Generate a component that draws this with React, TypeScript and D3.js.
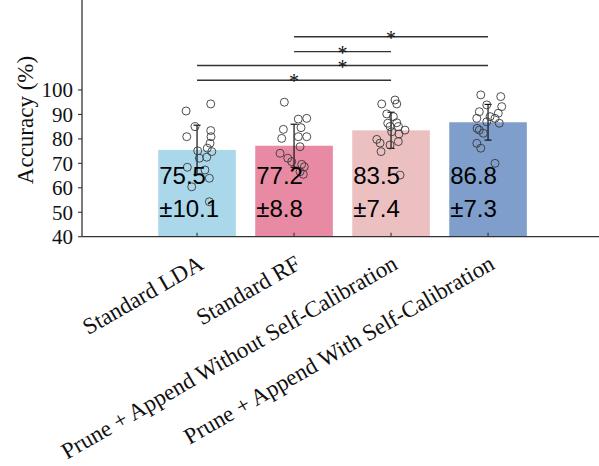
import React from "react";
import * as d3 from "d3";

const categories = [
  "Standard LDA",
  "Standard RF",
  "Prune + Append Without Self-Calibration",
  "Prune + Append With Self-Calibration",
];
const means = [75.5, 77.2, 83.5, 86.8];
const sds = [10.1, 8.8, 7.4, 7.3];
const barColors = ["#aad8ea", "#e88aa3", "#ecc0c0", "#7f9ecb"];
const yTicks = [40, 50, 60, 70, 80, 90, 100];

// individual subject points: value and horizontal jitter (in category units)
const ldaValues = [91.4, 94.3, 85.0, 80.9, 83.4, 80.9, 78.2, 76.2, 75.1, 74.8, 72.1, 72.5, 68.4, 67.3, 63.9, 60.4, 54.3];
const ldaJitter = [-0.113, 0.141, -0.021, -0.106, 0.141, 0.144, 0.134, 0.106, 0.007, 0.152, 0.024, 0.1, -0.1, 0.082, 0.127, -0.055, 0.127];
const rfValues = [95.0, 88.1, 88.4, 83.9, 84.6, 80.2, 80.9, 80.9, 76.8, 74.1, 72.1, 70.7, 69.6, 68.6, 66.6, 65.5];
const rfJitter = [-0.1, 0.044, 0.131, -0.11, 0.072, -0.127, 0.044, 0.131, 0.062, -0.144, -0.065, -0.024, 0.079, 0.106, 0.062, 0.096];
const paWoValues = [94.3, 95.9, 94.3, 90.2, 89.1, 86.4, 86.6, 85.0, 85.0, 83.6, 82.9, 82.0, 79.8, 78.9, 78.3, 77.5, 74.8, 65.2];
const paWoJitter = [-0.096, 0.041, 0.059, -0.044, 0.024, -0.034, 0.059, -0.01, 0.075, 0.144, 0.007, 0.082, -0.147, 0.075, -0.113, -0.01, -0.103, 0.093];
const paWValues = [98.0, 97.3, 93.9, 93.2, 91.1, 90.5, 88.4, 89.1, 88.4, 87.0, 86.4, 84.3, 83.6, 82.3, 78.2, 76.2, 70.0];
const paWJitter = [-0.075, 0.131, -0.013, 0.141, -0.09, 0.106, -0.116, 0.021, 0.072, -0.013, 0.116, -0.113, -0.09, -0.048, -0.116, -0.075, 0.072];
const pointValues = [ldaValues, rfValues, paWoValues, paWValues];
const pointJitter = [ldaJitter, rfJitter, paWoJitter, paWJitter];

// significance brackets: from index, to index, level (accuracy units)
const sigFrom = [1, 1, 0, 0];
const sigTo = [3, 2, 3, 2];
const sigLevel = [121.8, 115.7, 110.0, 104.0];

const W = 599;
const H = 466;

export default function App() {
  const x = d3.scaleLinear().domain([-1.186, 4.2]).range([82, 82 + 5.386 * 97]);
  const y = d3.scaleLinear().domain([40, 136.8]).range([236.7, 0]);
  const barW = 0.8 * 97;
  const axisColor = "#333";
  const serif = "'Liberation Serif', 'Times New Roman', serif";
  const sans = "'Liberation Sans', Arial, sans-serif";

  return (
    <svg width={W} height={H} style={{ position: "absolute", left: 0, top: 0, background: "#fff" }}>
      {means.map((m, i) => (
        <rect key={"b" + i} x={x(i) - barW / 2} y={y(m)} width={barW} height={y(40) - y(m)} fill={barColors[i]} />
      ))}
      {means.map((m, i) => {
        const cx = x(i);
        const t = y(m + sds[i]);
        const b = y(m - sds[i]);
        return (
          <g key={"e" + i} stroke="#111" strokeWidth={1.2}>
            <line x1={cx} x2={cx} y1={t} y2={b} />
            <line x1={cx - 3.5} x2={cx + 3.5} y1={t} y2={t} />
            <line x1={cx - 3.5} x2={cx + 3.5} y1={b} y2={b} />
          </g>
        );
      })}
      {pointValues.map((vals, i) =>
        vals.map((v, j) => (
          <circle key={"p" + i + "-" + j} cx={x(i + pointJitter[i][j])} cy={y(v)} r={4} fill="none" stroke="#3a3a3a" strokeWidth={0.9} />
        ))
      )}
      {means.map((m, i) => (
        <g key={"t" + i} fontFamily={sans} fontSize={24} fill="#000">
          <text x={x(i) - barW / 2 + 1} y={184}>{m.toFixed(1)}</text>
          <text x={x(i) - barW / 2 + 1} y={217}>{"±" + sds[i].toFixed(1)}</text>
        </g>
      ))}
      <line x1={82} x2={82} y1={0} y2={y(40)} stroke={axisColor} strokeWidth={1.3} />
      <line x1={82} x2={W} y1={y(40)} y2={y(40)} stroke={axisColor} strokeWidth={1.3} />
      {yTicks.map((t) => (
        <g key={"yt" + t}>
          <line x1={78} x2={82} y1={y(t)} y2={y(t)} stroke={axisColor} strokeWidth={1.1} />
          <text x={73} y={y(t)} dy="0.35em" textAnchor="end" fontFamily={serif} fontSize={21} fill="#111">
            {t}
          </text>
        </g>
      ))}
      {categories.map((c, i) => (
        <g key={"xt" + i}>
          <line x1={x(i)} x2={x(i)} y1={y(40)} y2={y(40) - 4} stroke={axisColor} strokeWidth={1.1} />
          <text
            transform={`translate(${x(i) + 4},261) rotate(-30)`}
            dy="0.35em"
            textAnchor="end"
            fontFamily={serif}
            fontSize={23}
            fill="#111"
          >
            {c}
          </text>
        </g>
      ))}
      <text transform="translate(33,120) rotate(-90)" textAnchor="middle" fontFamily={serif} fontSize={23} fill="#111">
        Accuracy (%)
      </text>
      {sigFrom.map((f, k) => {
        const ly = y(sigLevel[k]);
        const mid = (x(f) + x(sigTo[k])) / 2;
        return (
          <g key={"s" + k}>
            <line x1={x(f)} x2={x(sigTo[k])} y1={ly} y2={ly} stroke={axisColor} strokeWidth={1.4} />
            <text x={mid} y={ly + 8} textAnchor="middle" fontFamily={serif} fontSize={20} fill="#111">
              *
            </text>
          </g>
        );
      })}
    </svg>
  );
}
